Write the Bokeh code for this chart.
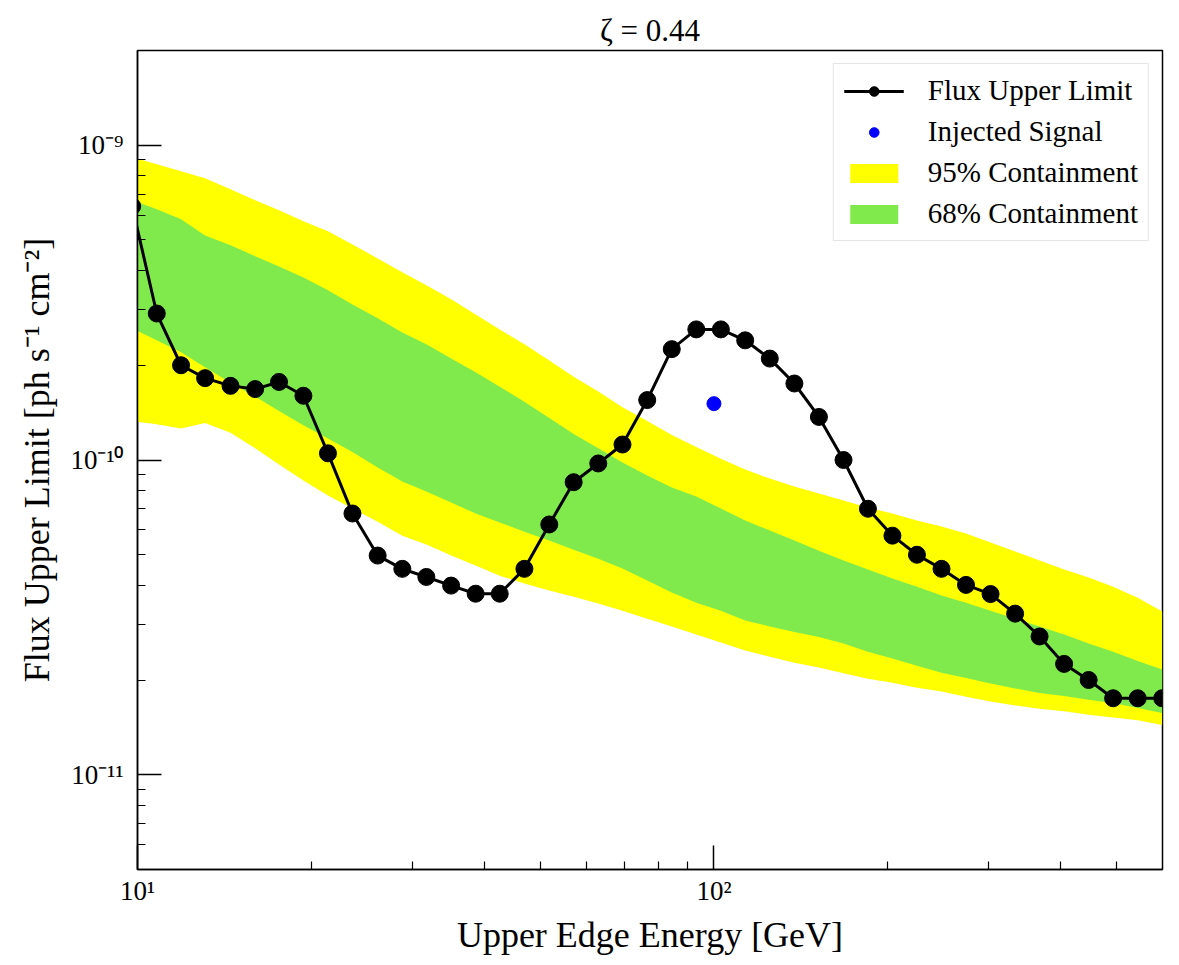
from bokeh.plotting import figure
from bokeh.models import FixedTicker, Legend, LegendItem, ColumnDataSource
from bokeh.embed import file_html
from bokeh.resources import INLINE

# ---------------- data ----------------
energy_gev = [9.79, 10.8, 11.9, 13.1, 14.5, 16.0, 17.6, 19.4, 21.4, 23.6, 26.1, 28.8,
              31.7, 35.0, 38.6, 42.5, 46.9, 51.8, 57.1, 63.0, 69.4, 76.6, 84.5, 93.2,
              102.8, 113.3, 125.0, 137.9, 152.1, 167.8, 185.0, 204.0, 225.0, 248.2,
              273.7, 301.9, 333.0, 367.2, 405.0, 446.7, 492.6, 543.4, 599.3]

flux_upper_limit = [6.40e-10, 2.92e-10, 2.00e-10, 1.82e-10, 1.72e-10, 1.68e-10, 1.77e-10,
                    1.60e-10, 1.05e-10, 6.76e-11, 4.97e-11, 4.51e-11, 4.25e-11, 3.99e-11,
                    3.76e-11, 3.76e-11, 4.51e-11, 6.24e-11, 8.50e-11, 9.75e-11, 1.12e-10,
                    1.55e-10, 2.25e-10, 2.60e-10, 2.60e-10, 2.40e-10, 2.10e-10, 1.75e-10,
                    1.37e-10, 1.00e-10, 7.00e-11, 5.75e-11, 5.00e-11, 4.51e-11, 4.01e-11,
                    3.75e-11, 3.25e-11, 2.75e-11, 2.25e-11, 2.00e-11, 1.75e-11, 1.75e-11,
                    1.75e-11]

upper_95 = [9.16e-10, 8.70e-10, 8.27e-10, 7.85e-10, 7.25e-10, 6.69e-10, 6.21e-10, 5.73e-10,
            5.33e-10, 4.84e-10, 4.37e-10, 3.95e-10, 3.59e-10, 3.24e-10, 2.90e-10, 2.60e-10,
            2.33e-10, 2.07e-10, 1.84e-10, 1.65e-10, 1.47e-10, 1.33e-10, 1.20e-10, 1.10e-10,
            1.01e-10, 9.33e-11, 8.73e-11, 8.24e-11, 7.82e-11, 7.43e-11, 7.06e-11, 6.76e-11,
            6.42e-11, 6.15e-11, 5.84e-11, 5.47e-11, 5.12e-11, 4.79e-11, 4.49e-11, 4.23e-11,
            3.96e-11, 3.65e-11, 3.30e-11]

upper_68 = [6.69e-10, 6.26e-10, 5.82e-10, 5.17e-10, 4.81e-10, 4.44e-10, 4.12e-10, 3.80e-10,
            3.46e-10, 3.12e-10, 2.82e-10, 2.54e-10, 2.33e-10, 2.10e-10, 1.90e-10, 1.71e-10,
            1.53e-10, 1.36e-10, 1.21e-10, 1.09e-10, 9.82e-11, 8.93e-11, 8.18e-11, 7.65e-11,
            7.01e-11, 6.42e-11, 5.97e-11, 5.55e-11, 5.15e-11, 4.79e-11, 4.49e-11, 4.20e-11,
            3.96e-11, 3.71e-11, 3.52e-11, 3.32e-11, 3.13e-11, 2.96e-11, 2.79e-11, 2.61e-11,
            2.46e-11, 2.30e-11, 2.16e-11]

lower_68 = [2.62e-10, 2.40e-10, 2.20e-10, 1.97e-10, 1.76e-10, 1.59e-10, 1.43e-10, 1.29e-10,
            1.17e-10, 1.06e-10, 9.47e-11, 8.54e-11, 7.94e-11, 7.33e-11, 6.76e-11, 6.33e-11,
            5.92e-11, 5.55e-11, 5.19e-11, 4.86e-11, 4.52e-11, 4.14e-11, 3.79e-11, 3.52e-11,
            3.32e-11, 3.09e-11, 2.96e-11, 2.84e-11, 2.74e-11, 2.61e-11, 2.46e-11, 2.34e-11,
            2.22e-11, 2.11e-11, 2.03e-11, 1.95e-11, 1.88e-11, 1.82e-11, 1.78e-11, 1.73e-11,
            1.69e-11, 1.63e-11, 1.57e-11]

lower_95 = [1.33e-10, 1.30e-10, 1.26e-10, 1.31e-10, 1.22e-10, 1.09e-10, 9.68e-11, 8.61e-11,
            7.71e-11, 7.01e-11, 6.37e-11, 5.75e-11, 5.39e-11, 4.97e-11, 4.62e-11, 4.29e-11,
            4.05e-11, 3.85e-11, 3.68e-11, 3.50e-11, 3.32e-11, 3.13e-11, 2.96e-11, 2.79e-11,
            2.63e-11, 2.48e-11, 2.37e-11, 2.27e-11, 2.19e-11, 2.10e-11, 2.02e-11, 1.96e-11,
            1.89e-11, 1.84e-11, 1.77e-11, 1.71e-11, 1.66e-11, 1.62e-11, 1.59e-11, 1.55e-11,
            1.52e-11, 1.49e-11, 1.44e-11]

injected_energy = [100.0]
injected_flux = [1.51e-10]

x_major_ticks = [10, 100]
x_minor_ticks = [20, 30, 40, 50, 60, 70, 80, 90, 200, 300, 400, 500]
x_tick_labels = {10: "10¹", 100: "10²"}
y_major_ticks = [1e-11, 1e-10, 1e-9]
y_minor_ticks = [6e-12, 7e-12, 8e-12, 9e-12,
                 2e-11, 3e-11, 4e-11, 5e-11, 6e-11, 7e-11, 8e-11, 9e-11,
                 2e-10, 3e-10, 4e-10, 5e-10, 6e-10, 7e-10, 8e-10, 9e-10]
y_tick_labels = {1e-11: "10⁻¹¹", 1e-10: "10⁻¹⁰", 1e-9: "10⁻⁹"}

title_text = "ζ = 0.44"
x_label = "Upper Edge Energy [GeV]"
y_label = "Flux Upper Limit [ph s⁻¹ cm⁻²]"

# ---------------- figure ----------------
FONT = "Liberation Serif"

p = figure(width=1179, height=965, x_axis_type="log", y_axis_type="log",
           x_range=(10, 600), y_range=(5e-12, 2e-9),
           output_backend="svg", toolbar_location=None,
           min_border_left=137, min_border_right=17,
           min_border_top=50, min_border_bottom=96)

p.background_fill_color = "white"
p.border_fill_color = "white"
p.xgrid.visible = False
p.ygrid.visible = False
p.outline_line_color = "black"
p.outline_line_width = 1.5

p.title.text = title_text
p.title.align = "center"
p.title.text_font = FONT
p.title.text_font_size = "31px"
p.title.text_font_style = "normal"
p.title.text_color = "black"
p.title.standoff = 6

src = ColumnDataSource(dict(e=energy_gev, f=flux_upper_limit, u95=upper_95, l95=lower_95,
                            u68=upper_68, l68=lower_68))

r95 = p.varea(x="e", y1="l95", y2="u95", source=src, fill_color="#ffff00")
r68 = p.varea(x="e", y1="l68", y2="u68", source=src, fill_color="#80ea4c")
rline = p.line(x="e", y="f", source=src, line_color="black", line_width=3)
rpts = p.scatter(x="e", y="f", source=src, size=17, fill_color="black", line_color="black")
rinj = p.scatter(x=injected_energy, y=injected_flux, size=14, fill_color="#0000ff",
                 line_color="#0000ff")

xa = p.xaxis[0]
ya = p.yaxis[0]
xa.ticker = FixedTicker(ticks=x_major_ticks, minor_ticks=x_minor_ticks)
ya.ticker = FixedTicker(ticks=y_major_ticks, minor_ticks=y_minor_ticks)
xa.major_label_overrides = x_tick_labels
ya.major_label_overrides = y_tick_labels

for ax in (xa, ya):
    ax.axis_line_color = "black"
    ax.axis_line_width = 1.5
    ax.major_tick_in = 24
    ax.major_tick_out = 0
    ax.minor_tick_in = 8
    ax.minor_tick_out = 0
    ax.major_tick_line_width = 1.5
    ax.minor_tick_line_width = 1.2
    ax.major_tick_line_color = "black"
    ax.minor_tick_line_color = "black"
    ax.major_label_text_font = FONT
    ax.major_label_text_font_size = "27px"
    ax.major_label_text_color = "black"
    ax.axis_label_text_font = FONT
    ax.axis_label_text_font_size = "36px"
    ax.axis_label_text_font_style = "normal"
    ax.axis_label_text_color = "black"

xa.axis_label = x_label
ya.axis_label = y_label
xa.major_label_standoff = 6
ya.major_label_standoff = 14
xa.axis_label_standoff = 6
ya.axis_label_standoff = 10

legend = Legend(items=[
    LegendItem(label="Flux Upper Limit", renderers=[rline, rpts]),
    LegendItem(label="Injected Signal", renderers=[rinj]),
    LegendItem(label="95% Containment", renderers=[r95]),
    LegendItem(label="68% Containment", renderers=[r68]),
], location="top_right")
legend.label_text_font = FONT
legend.label_text_font_size = "29px"
legend.label_text_color = "black"
legend.glyph_width = 60
legend.glyph_height = 24
legend.label_height = 24
legend.spacing = 8
legend.padding = 10
legend.margin = 13
legend.label_standoff = 24
legend.border_line_color = "#cccccc"
legend.border_line_width = 1.5
legend.background_fill_color = "white"
legend.background_fill_alpha = 0.8
p.add_layout(legend)

open("out.html", "w").write(file_html(p, INLINE))
